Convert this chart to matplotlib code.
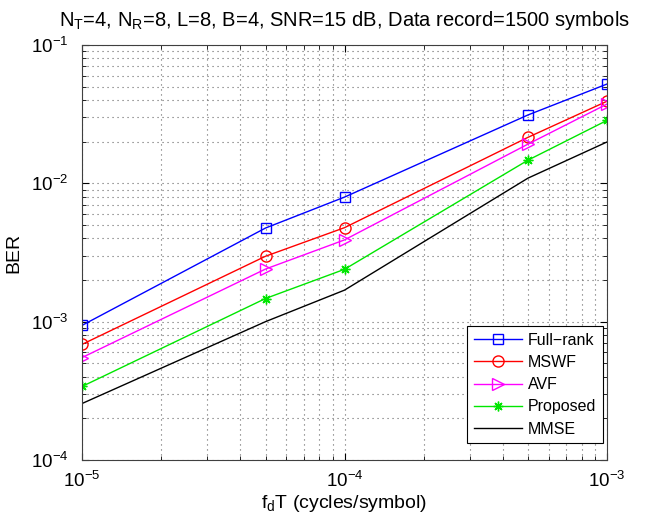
import numpy as np
from matplotlib import pyplot as plt

plt.rcParams['font.family'] = ['Liberation Sans', 'DejaVu Sans']
plt.rcParams['mathtext.fontset'] = 'custom'
plt.rcParams['mathtext.rm'] = 'Liberation Sans'

# Doppler values (fdT) and BER curves.
fdT = [1e-5, 5e-5, 1e-4, 5e-4, 1e-3]
ber_full_rank = [9.4e-4, 4.75e-3, 7.95e-3, 0.0312, 0.0522]
ber_mswf = [6.85e-4, 2.97e-3, 4.78e-3, 0.0215, 0.0392]
ber_avf = [5.5e-4, 2.4e-3, 3.9e-3, 0.0192, 0.0374]
ber_proposed = [3.4e-4, 1.47e-3, 2.39e-3, 0.0147, 0.0285]
ber_mmse = [2.56e-4, 1.0e-3, 1.69e-3, 0.0109, 0.0199]

labels = ['Full\u2212rank', 'MSWF', 'AVF', 'Proposed', 'MMSE']

fig = plt.figure(figsize=(6.46, 5.2), dpi=100)
ax = fig.add_axes([0.127, 0.1154, 0.8126, 0.7981])

ax.loglog(fdT, ber_full_rank, color=(0, 0, 1), marker='s', markersize=6.5,
          markerfacecolor='none', lw=1, label=labels[0])
ax.loglog(fdT, ber_mswf, color=(1, 0, 0), marker='o', markersize=8,
          markerfacecolor='none', lw=1, label=labels[1])
ax.loglog(fdT, ber_avf, color=(1, 0, 1), marker='>', markersize=8,
          markerfacecolor='none', lw=1, label=labels[2])
ax.loglog(fdT, ber_proposed, color=(0, 0.9, 0), marker=(8, 2, 0), markersize=7,
          lw=1, label=labels[3])
ax.loglog(fdT, ber_mmse, color='k', lw=1, label=labels[4])

ax.set_xlim(1e-5, 1e-3)
ax.set_ylim(1e-4, 1e-1)

# MATLAB style dotted grid on major and minor ticks
ax.grid(True, which='both', linestyle=(0, (1, 3.5)), color='0.4', lw=0.8)
ax.tick_params(which='both', direction='in', top=True, right=True, labelsize=13.5)
ax.tick_params(axis='x', which='major', pad=8)
ax.tick_params(axis='y', which='major', pad=10)
ax.tick_params(which='major', length=5)
ax.tick_params(which='minor', length=3)
for sp in ax.spines.values():
    sp.set_color('0.25')

ax.set_xlabel(r'$\mathregular{f_dT}$ (cycles/symbol)', fontsize=14, labelpad=1)
ax.set_ylabel('BER', fontsize=14, labelpad=6)
ax.set_title(r'$\mathregular{N_T}$=4, $\mathregular{N_R}$=8, L=8, B=4, SNR=15 dB, Data record=1500 symbols',
             fontsize=14.5, pad=14)

leg = ax.legend(loc='lower right', bbox_to_anchor=(0.992, 0.041), borderaxespad=0,
                fontsize=11.5, numpoints=1, handlelength=3.0,
                fancybox=False, framealpha=1, edgecolor='k',
                labelspacing=0.45, handletextpad=0.4, borderpad=0.4)
leg.get_frame().set_linewidth(0.8)

fig.savefig('out.png', dpi=100)
